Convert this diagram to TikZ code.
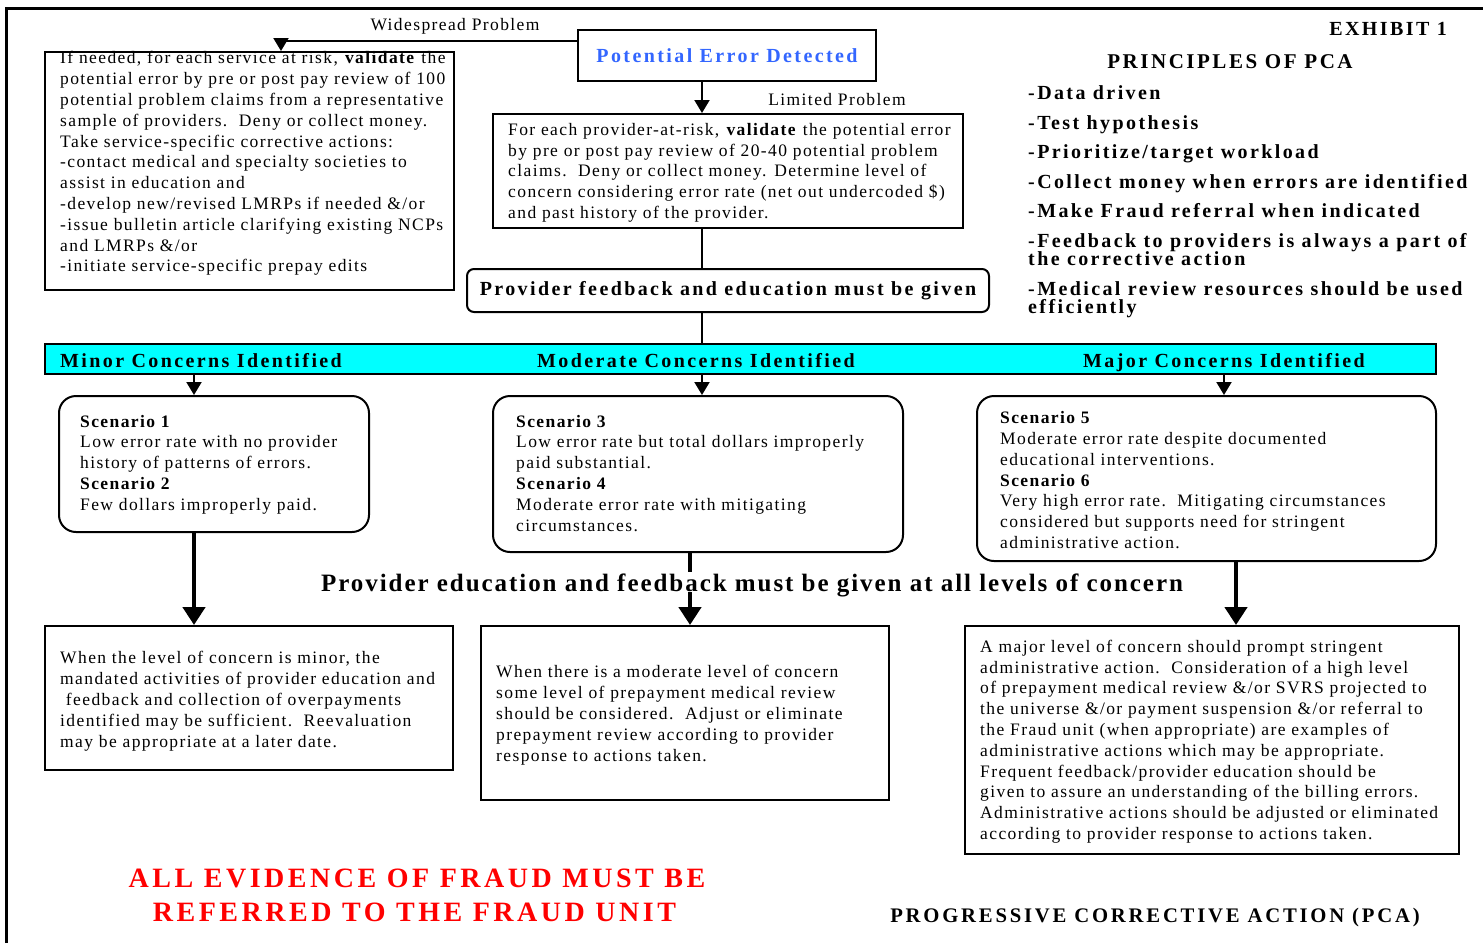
\documentclass[tikz,border=0pt]{standalone}
\usepackage{fontspec}
\setmainfont{Liberation Serif}
\newfontfamily\bodyfam[LetterSpace=8,Ligatures=NoCommon]{Liberation Serif}
\newfontfamily\headfam[LetterSpace=12,Ligatures=NoCommon]{Liberation Serif}
\newfontfamily\bigfam[LetterSpace=7.8,Ligatures=NoCommon]{Liberation Serif}
\newfontfamily\redfam[LetterSpace=12.6,Ligatures=NoCommon]{Liberation Serif}
\newfontfamily\widefam[LetterSpace=13.4,Ligatures=NoCommon]{Liberation Serif}
\usetikzlibrary{arrows.meta}
\definecolor{pedblue}{RGB}{51,102,255}
\definecolor{alertred}{RGB}{255,0,0}
\definecolor{barcyan}{RGB}{0,255,255}

\begin{document}
\begin{tikzpicture}[x=1pt,y=-1pt,
  plainbox/.style={draw, line width=2pt, inner sep=0pt, anchor=north west},
  roundbox/.style={plainbox, rounded corners=17pt},
  txtbody/.style={font=\bodyfam\fontsize{17.5}{20.8}\selectfont, align=left, inner sep=0pt, anchor=north west},
  txthead/.style={font=\headfam\bfseries\fontsize{20}{24}\selectfont, inner sep=0pt},
  joinline/.style={line width=2pt},
  flowarrow/.style={line width=2pt, -{Triangle[length=13pt,width=15pt]}},
  bigarrow/.style={line width=4.5pt, -{Triangle[length=18pt,width=22pt]}},
  borderline/.style={line width=3.3pt}
]
\useasboundingbox (0,0) rectangle (1483,943);

% outer frame: top and left edges only
\draw[borderline] (6.7,943) -- (6.7,8.3) -- (1483,8.3);

% boxes
\node[plainbox, minimum width=409pt, minimum height=238pt] (lbox) at (44,51) {};
\node[plainbox, minimum width=298pt, minimum height=51pt,
      font=\headfam\bfseries\fontsize{20}{24}\selectfont, text=pedblue] (ped) at (577,29) {Potential Error Detected};
\node[plainbox, minimum width=470pt, minimum height=114pt] (pbox) at (492,113) {};
\node[plainbox, rounded corners=7pt, minimum width=522pt, minimum height=43pt,
      font=\headfam\bfseries\fontsize{20}{24}\selectfont] (fbk) at (466,268) {Provider feedback and education must be given};
\node[plainbox, fill=barcyan, minimum width=1391pt, minimum height=30pt] (bar) at (44,343) {};
\node[roundbox, minimum width=310pt, minimum height=136pt] (s1) at (58,395) {};
\node[roundbox, minimum width=410pt, minimum height=156pt] (s2) at (492,395) {};
\node[roundbox, minimum width=459pt, minimum height=165pt] (s3) at (976,395) {};
\node[plainbox, minimum width=408pt, minimum height=144pt] (b1) at (44,625) {};
\node[plainbox, minimum width=408pt, minimum height=174pt] (b2) at (480,625) {};
\node[plainbox, minimum width=494pt, minimum height=228pt] (b3) at (964,625) {};

% connector columns
\coordinate (spine) at (702,0);
\coordinate (wsp) at (281,0);
\coordinate (colA) at (194,0);
\coordinate (colB) at (690,0);
\coordinate (colC) at (1236,0);
\coordinate (colM) at (1224,0);

% connectors
\draw[flowarrow] ([yshift=14.5pt]ped.west) -| (lbox.north -| wsp);
\draw[flowarrow] (ped.south -| spine) -- (pbox.north -| spine);
\draw[joinline] (pbox.south -| spine) -- (fbk.north -| spine);
\draw[joinline] (fbk.south -| spine) -- (bar.north -| spine);
\draw[flowarrow] (bar.south -| colA) -- (s1.north -| colA);
\draw[flowarrow] (bar.south -| spine) -- (s2.north -| spine);
\draw[flowarrow] (bar.south -| colM) -- (s3.north -| colM);
\draw[bigarrow] (s1.south -| colA) -- (b1.north -| colA);
\draw[bigarrow] (s2.south -| colB) -- (b2.north -| colB);
\draw[bigarrow] (s3.south -| colC) -- (b3.north -| colC);

% connector labels
\node[font=\bodyfam\fontsize{17.5}{20.8}\selectfont, inner sep=0pt, anchor=base] (wide) at (455,30.7) {Widespread Problem};
\node[font=\bodyfam\fontsize{17.5}{20.8}\selectfont, inner sep=0pt, anchor=base] (limited) at (837,105) {Limited Problem};

% concern level labels on the bar
\node[txthead, anchor=base west] (minor) at (60,367.3) {Minor Concerns Identified};
\node[txthead, anchor=base] (moderate) at (696,367.3) {Moderate Concerns Identified};
\node[txthead, anchor=base] (major) at (1224,367.3) {Major Concerns Identified};

% box texts
\node[txtbody] (lboxtext) at (60,51.3) {If needed, for each service at risk, \textbf{validate} the\\
potential error by pre or post pay review of 100\\
potential problem claims from a representative\\
sample of providers.\ \ Deny or collect money.\\
Take service-specific corrective actions:\\
-contact medical and specialty societies to\\
assist in education and\\
-develop new/revised LMRPs if needed \&/or\\
-issue bulletin article clarifying existing NCPs\\
and LMRPs \&/or\\
-initiate service-specific prepay edits};

\node[txtbody] (pboxtext) at (508,123) {For each provider-at-risk, \textbf{validate} the potential error\\
by pre or post pay review of 20-40 potential problem\\
claims.\ \ Deny or collect money. Determine level of\\
concern considering error rate (net out undercoded \$)\\
and past history of the provider.};

\node[txtbody] (s1text) at (80,414.7) {\textbf{Scenario 1}\\
Low error rate with no provider\\
history of patterns of errors.\\
\textbf{Scenario 2}\\
Few dollars improperly paid.};

\node[txtbody] (s2text) at (516,414.7) {\textbf{Scenario 3}\\
Low error rate but total dollars improperly\\
paid substantial.\\
\textbf{Scenario 4}\\
Moderate error rate with mitigating\\
circumstances.};

\node[txtbody] (s3text) at (1000,411.3) {\textbf{Scenario 5}\\
Moderate error rate despite documented\\
educational interventions.\\
\textbf{Scenario 6}\\
Very high error rate.\ \ Mitigating circumstances\\
considered but supports need for stringent\\
administrative action.};

\node[txtbody] (b1text) at (60,651.3) {When the level of concern is minor, the\\
mandated activities of provider education and\\
\ feedback and collection of overpayments\\
identified may be sufficient.\ \ Reevaluation\\
may be appropriate at a later date.};

\node[txtbody] (b2text) at (496,665.3) {When there is a moderate level of concern\\
some level of prepayment medical review\\
should be considered.\ \ Adjust or eliminate\\
prepayment review according to provider\\
response to actions taken.};

\node[txtbody] (b3text) at (980,639.7) {A major level of concern should prompt stringent\\
administrative action.\ \ Consideration of a high level\\
of prepayment medical review \&/or SVRS projected to\\
the universe \&/or payment suspension \&/or referral to\\
the Fraud unit (when appropriate) are examples of\\
administrative actions which may be appropriate.\\
Frequent feedback/provider education should be\\
given to assure an understanding of the billing errors.\\
Administrative actions should be adjusted or eliminated\\
according to provider response to actions taken.};

% message across the middle
\node[font=\bigfam\bfseries\fontsize{25}{30}\selectfont, fill=white, inner xsep=0pt, inner ysep=1pt,
      text depth=0pt, anchor=base] (allevels) at (752,591) {Provider education and feedback must be given at all levels of concern};

% principles panel
\node[txthead, anchor=base east] (exhibit) at (1447,35) {EXHIBIT 1};
\node[txthead, font=\headfam\bfseries\fontsize{21}{24}\selectfont, anchor=base] (principles) at (1230,68) {PRINCIPLES OF PCA};
\node[txthead, font=\headfam\bfseries\fontsize{20}{18.5}\selectfont, align=left, anchor=north west] (plist) at (1028,85.5) {-Data driven\\[11pt]
-Test hypothesis\\[11pt]
-Prioritize/target workload\\[11pt]
-Collect money when errors are identified\\[11pt]
-Make Fraud referral when indicated\\[11pt]
-Feedback to providers is always a part of\\
the corrective action\\[11pt]
-Medical review resources should be used\\
efficiently};

% footer
\node[font=\redfam\bfseries\fontsize{28}{34}\selectfont, text=alertred, inner sep=0pt, anchor=base] (fraud1) at (417,887) {ALL EVIDENCE OF FRAUD MUST BE};
\node[font=\redfam\bfseries\fontsize{28}{34}\selectfont, text=alertred, inner sep=0pt, anchor=base] (fraud2) at (414.5,921) {REFERRED TO THE FRAUD UNIT};
\node[font=\widefam\bfseries\fontsize{20.7}{24}\selectfont, inner sep=0pt, anchor=base] (pca) at (1155,922) {PROGRESSIVE CORRECTIVE ACTION (PCA)};
\end{tikzpicture}
\end{document}
